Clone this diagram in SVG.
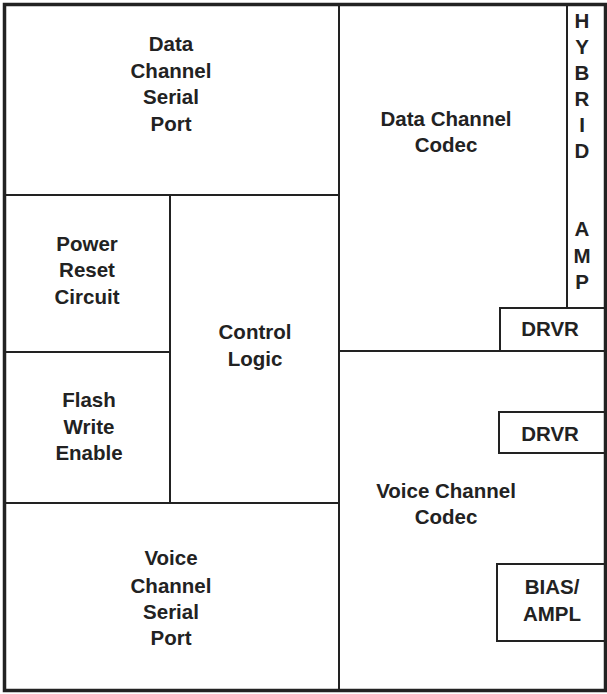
<svg xmlns="http://www.w3.org/2000/svg" width="607" height="694" viewBox="0 0 607 694">
<style>
.ln{stroke:#222;stroke-width:2;fill:none}
.box{stroke:#222;stroke-width:2;fill:#fff}
.outer{stroke:#222;stroke-width:3.5;fill:none}
text{font-family:"Liberation Sans",Arial,sans-serif;font-weight:bold;font-size:20.5px;fill:#222;text-anchor:middle}
</style>
<rect width="607" height="694" fill="#fff"/>
<g id="connectors">
<line class="ln" x1="339" y1="4" x2="339" y2="691"/>
<line class="ln" x1="4" y1="195" x2="339" y2="195"/>
<line class="ln" x1="170" y1="195" x2="170" y2="503"/>
<line class="ln" x1="4" y1="352" x2="170" y2="352"/>
<line class="ln" x1="4" y1="503" x2="339" y2="503"/>
<line class="ln" x1="339" y1="351" x2="606" y2="351"/>
<line class="ln" x1="567" y1="4" x2="567" y2="308"/>
</g>
<g id="data-serial"><text x="171" y="51">Data</text><text x="171" y="78">Channel</text><text x="171" y="104">Serial</text><text x="171" y="131">Port</text></g>
<g id="data-codec"><text x="446" y="126">Data Channel</text><text x="446" y="152">Codec</text></g>
<g id="hybrid"><text x="582" y="28">H</text><text x="582" y="54">Y</text><text x="582" y="80">B</text><text x="582" y="106">R</text><text x="582" y="132">I</text><text x="582" y="158">D</text><text x="582" y="236">A</text><text x="582" y="263">M</text><text x="582" y="289">P</text></g>
<g id="drvr1"><rect class="box" x="500" y="308" width="107" height="43"/><text x="550" y="336">DRVR</text></g>
<g id="power"><text x="87" y="251">Power</text><text x="87" y="277">Reset</text><text x="87" y="304">Circuit</text></g>
<g id="control"><text x="255" y="339">Control</text><text x="255" y="366">Logic</text></g>
<g id="flash"><text x="89" y="407">Flash</text><text x="89" y="434">Write</text><text x="89" y="460">Enable</text></g>
<g id="drvr2"><rect class="box" x="499" y="412" width="108" height="41"/><text x="550" y="441">DRVR</text></g>
<g id="voice-codec"><text x="446" y="498">Voice Channel</text><text x="446" y="524">Codec</text></g>
<g id="bias"><rect class="box" x="497" y="564" width="110" height="77"/><text x="552" y="594">BIAS/</text><text x="552" y="621">AMPL</text></g>
<g id="voice-serial"><text x="171" y="565">Voice</text><text x="171" y="593">Channel</text><text x="171" y="619">Serial</text><text x="171" y="645">Port</text></g>
<rect class="outer" x="4.5" y="4.5" width="601" height="686"/>
</svg>
